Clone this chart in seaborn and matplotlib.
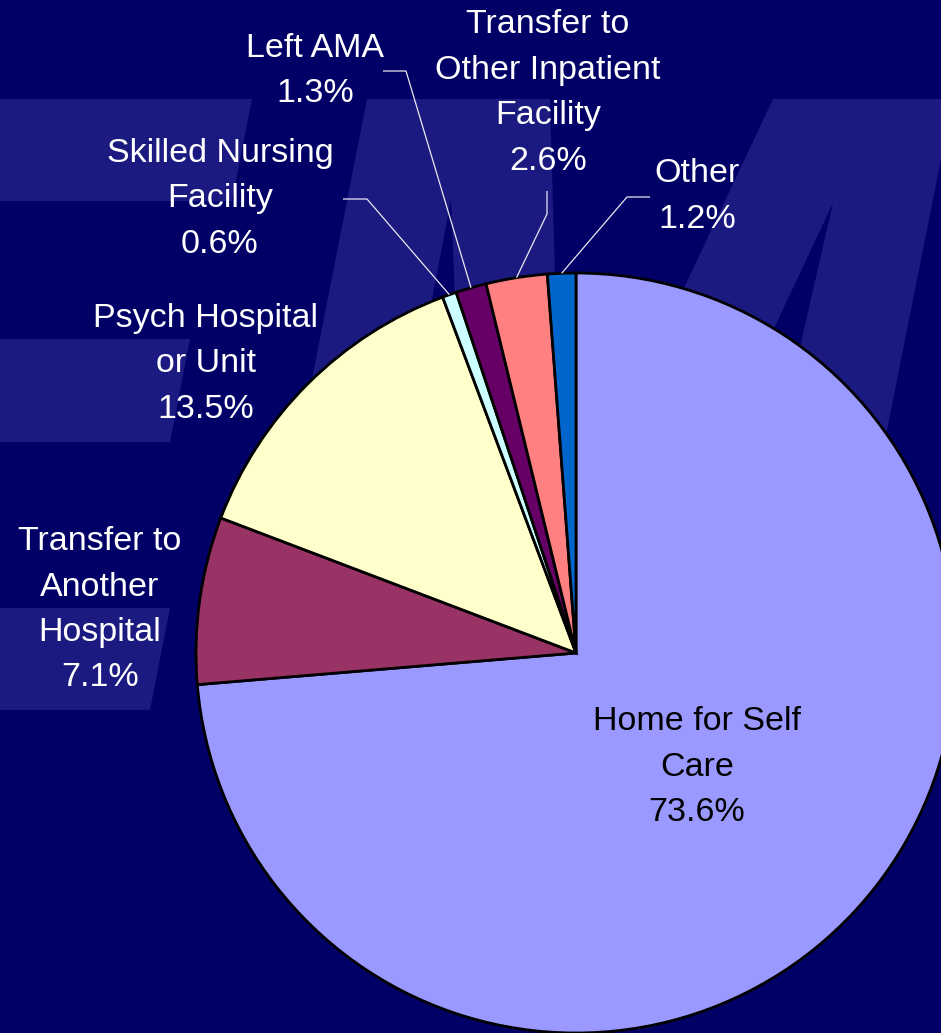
import matplotlib
matplotlib.use("Agg")
import matplotlib.pyplot as plt
import seaborn as sns
import numpy as np

# ---------------- data ----------------
categories = ["Home for Self Care", "Transfer to Another Hospital",
              "Psych Hospital or Unit", "Skilled Nursing Facility",
              "Left AMA", "Transfer to Other Inpatient Facility", "Other"]
values = [73.6, 7.1, 13.5, 0.6, 1.3, 2.6, 1.2]
label_lines = [["Home for Self", "Care"],
               ["Transfer to", "Another", "Hospital"],
               ["Psych Hospital", "or Unit"],
               ["Skilled Nursing", "Facility"],
               ["Left AMA"],
               ["Transfer to", "Other Inpatient", "Facility"],
               ["Other"]]
slice_colors = ["#9999FF", "#993366", "#FFFFCC", "#CCFFFF",
                "#660066", "#FF8080", "#0066CC"]

# ---------------- layout (pixel coordinates, y from top) ----------------
W, H = 941, 1033
BG = "#000066"
WATERMARK = "#1B1A80"
pie_center_px = (576, 653)
pie_radius = 380
label_pos = [(697, 730), (100, 550), (206, 327), (220, 162),
             (315, 57), (548, 33), (697, 182)]
label_color = ["black", "white", "white", "white", "white", "white", "white"]
line_step = 45.5
# leader lines: index -> (start, elbow)
leaders = {3: ((343, 199), (367, 199)),
           4: ((383, 71), (406, 71)),
           5: ((547, 191), (547, 214)),
           6: ((650, 197), (627, 197))}

# decorative background watermark shapes
watermark_shapes = [
    [(0, 99), (252, 99), (232, 201), (0, 201)],
    [(0, 339), (190, 339), (170, 442), (0, 442)],
    [(0, 608), (170, 608), (150, 710), (0, 710)],
    [(367, 99), (550, 99), (559, 420), (460, 420), (451, 200), (409, 420), (304, 420)],
    [(773, 99), (953, 99), (881, 460), (774, 460), (833, 203), (712, 460), (603, 460)],
]

sns.set_theme(style="white")
plt.rcParams["font.family"] = ["Liberation Sans", "DejaVu Sans"]


def Y(py):
    return H - py


fig = plt.figure(figsize=(W / 100, H / 100), dpi=100, facecolor=BG)
ax = fig.add_axes([0, 0, 1, 1])
ax.set_facecolor(BG)

for shp in watermark_shapes:
    xs = [p[0] for p in shp]
    ys = [Y(p[1]) for p in shp]
    ax.fill(xs, ys, color=WATERMARK, lw=0, zorder=0)

cx, cy = pie_center_px[0], Y(pie_center_px[1])
wedges, _ = ax.pie(values, colors=slice_colors, startangle=90,
                   counterclock=False, center=(cx, cy),
                   radius=pie_radius,
                   wedgeprops=dict(edgecolor="black", linewidth=2.0,
                                   joinstyle="miter"))
for w in wedges:
    w.set_zorder(2)

# labels
for i, lines in enumerate(label_lines):
    all_lines = lines + [f"{values[i]:.1f}%"]
    x0, b0 = label_pos[i]
    for j, ln in enumerate(all_lines):
        ax.text(x0, Y(b0 + j * line_step), ln, ha="center", va="baseline",
                fontsize=24.5, color=label_color[i], zorder=5)

# leader lines
for i, (start, elbow) in leaders.items():
    w = wedges[i]
    th = np.deg2rad((w.theta1 + w.theta2) / 2)
    ex = cx + pie_radius * np.cos(th)
    ey = cy + pie_radius * np.sin(th)
    ax.plot([start[0], elbow[0], ex], [Y(start[1]), Y(elbow[1]), ey],
            color="#E8E8F0", lw=0.9, zorder=3, solid_capstyle="butt")

ax.set_xlim(0, W)
ax.set_ylim(0, H)
ax.set_aspect("equal")
ax.axis("off")

fig.savefig("out.png", dpi=100, facecolor=BG)
